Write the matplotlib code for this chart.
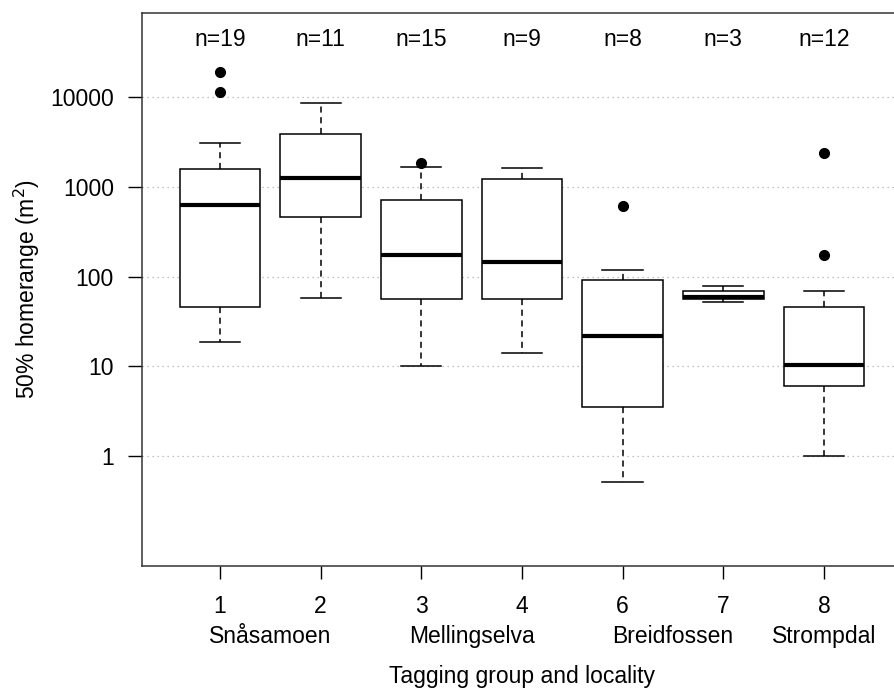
"""
Boxplot of 50% homerange per tagging group (log scale), R-style.
"""
import matplotlib
matplotlib.use('Agg')
import matplotlib.pyplot as plt

plt.rcParams['font.family'] = ['Liberation Sans', 'DejaVu Sans']

# ── Data ──────────────────────────────────────────────────────────────────────
groups     = ['1', '2', '3', '4', '6', '7', '8']
n_counts   = [19, 11, 15, 9, 8, 3, 12]
whislo     = [18.6, 58, 10, 14.1, 0.51, 51.8, 1.0]
q1         = [45.8, 464, 56.6, 55.5, 3.52, 55.5, 6.04]
med        = [622, 1236, 172.6, 146, 22.0, 59.3, 10.3]
q3         = [1581, 3846, 712, 1222, 91.9, 68.6, 46.2]
whishi     = [3105, 8640, 1671, 1618, 118, 77.6, 68.6]
fliers     = [[11320, 18750], [], [1833], [], [608], [], [174.6, 2399]]
localities = ['Snåsamoen', 'Mellingselva', 'Breidfossen', 'Strompdal']
loc_pos    = [1.5, 3.5, 5.5, 7.0]
yticks     = [1, 10, 100, 1000, 10000]

FS = 16.5

stats = [dict(whislo=a, q1=b, med=c, q3=d, whishi=e, fliers=f)
         for a, b, c, d, e, f in zip(whislo, q1, med, q3, whishi, fliers)]
positions = list(range(1, len(groups) + 1))

# ── Figure ────────────────────────────────────────────────────────────────────
fig = plt.figure(figsize=(8.95, 6.9), dpi=100)
ax = fig.add_axes([0.1583, 0.1797, 0.8498, 0.8014])

ax.set_yscale('log')
ax.set_ylim(10 ** -1.225, 10 ** 4.935)
ax.set_xlim(0.222, 7.778)

for y in yticks:
    ax.axhline(y, color='#b0b0b0', linestyle=(0, (1, 3)), lw=0.9, zorder=0)

ax.bxp(stats, positions=positions, widths=0.8, showfliers=True,
       patch_artist=True,
       boxprops=dict(facecolor='white', edgecolor='black', lw=1.1),
       medianprops=dict(color='black', lw=3),
       whiskerprops=dict(color='black', lw=1.1, linestyle=(0, (4, 3))),
       capprops=dict(color='black', lw=1.1),
       capwidths=0.4,
       flierprops=dict(marker='o', markerfacecolor='black',
                       markeredgecolor='black', markersize=7))

for p, n in zip(positions, n_counts):
    ax.text(p, 10 ** 4.635, f'n={n}', ha='center', va='center', fontsize=FS)

ax.set_yticks(yticks)
ax.set_yticklabels([str(v) for v in yticks])
ax.yaxis.set_minor_locator(matplotlib.ticker.NullLocator())
ax.set_xticks(positions)
ax.set_xticklabels(groups)
ax.tick_params(axis='y', length=10, width=1, pad=10, labelsize=FS)
ax.tick_params(axis='x', length=9, width=1, pad=12, labelsize=FS)

for name, p in zip(localities, loc_pos):
    ax.annotate(name, xy=(p, 0), xycoords=('data', 'axes fraction'),
                xytext=(0, -51), textcoords='offset points',
                ha='center', va='center', fontsize=FS)

for s in ax.spines.values():
    s.set_linewidth(1.1)
    s.set_color('#333333')

fig.text(27 / 895, 1 - 289 / 690, r'50% homerange (m$^2$)', rotation=90,
         ha='center', va='center', fontsize=FS)
fig.text(522 / 895, 1 - 677 / 690, 'Tagging group and locality',
         ha='center', va='center', fontsize=FS)

fig.savefig('out.png', dpi=100)
plt.close(fig)
